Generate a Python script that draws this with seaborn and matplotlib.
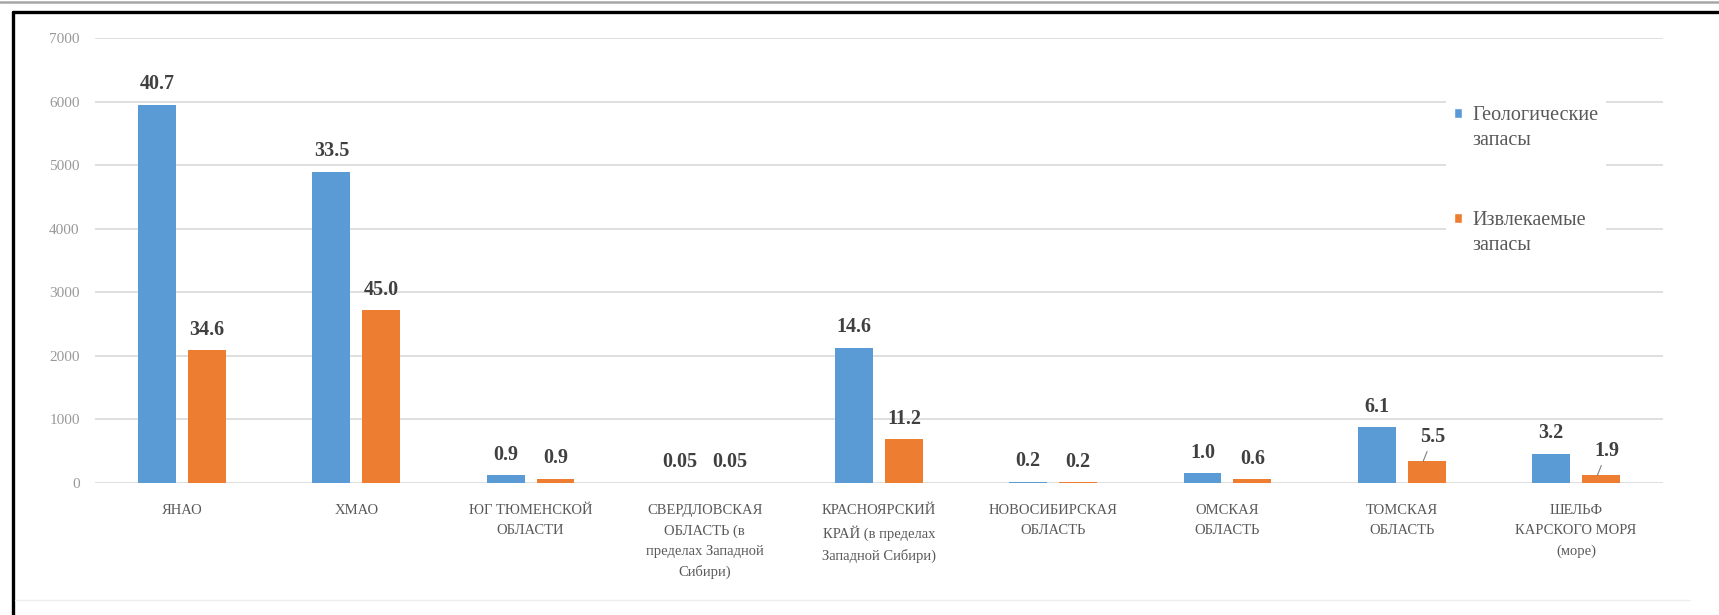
import numpy as np
import pandas as pd
import matplotlib
matplotlib.use("Agg")
import matplotlib.pyplot as plt
import seaborn as sns
from matplotlib.lines import Line2D
from matplotlib.patches import Patch, Rectangle
from matplotlib.legend_handler import HandlerPatch

# Regions (x-axis categories, with their line breaks)
regions = [
    "ЯНАО",
    "ХМАО",
    "ЮГ ТЮМЕНСКОЙ\nОБЛАСТИ",
    "СВЕРДЛОВСКАЯ\nОБЛАСТЬ (в\nпределах Западной\nСибири)",
    "КРАСНОЯРСКИЙ\nКРАЙ (в пределах\nЗападной Сибири)",
    "НОВОСИБИРСКАЯ\nОБЛАСТЬ",
    "ОМСКАЯ\nОБЛАСТЬ",
    "ТОМСКАЯ\nОБЛАСТЬ",
    "ШЕЛЬФ\nКАРСКОГО МОРЯ\n(море)",
]
series_names = ["Геологические\nзапасы", "Извлекаемые\nзапасы"]

# Bar heights
geo_reserves = [5950, 4900, 120, 5, 2130, 20, 150, 880, 460]
rec_reserves = [2090, 2720, 70, 5, 690, 10, 60, 340, 120]

# Labels above bars (share, %)
geo_share = ["40.7", "33.5", "0.9", "0.05", "14.6", "0.2", "1.0", "6.1", "3.2"]
rec_share = ["34.6", "45.0", "0.9", "0.05", "11.2", "0.2", "0.6", "5.5", "1.9"]
leader_labels = {"5.5", "1.9"}

yticks = [0, 1000, 2000, 3000, 4000, 5000, 6000, 7000]

blue = "#5B9BD5"
orange = "#ED7D31"

df = pd.DataFrame({
    "region": regions * 2,
    "series": [series_names[0]] * len(regions) + [series_names[1]] * len(regions),
    "value": geo_reserves + rec_reserves,
})

sns.set_style("white")
plt.rcParams["font.family"] = ["Liberation Serif", "DejaVu Serif"]

W, H = 1719, 615
fig = plt.figure(figsize=(W / 100, H / 100), dpi=100)
ax = fig.add_axes([95 / W, (H - 483) / H, (1663 - 95) / W, (483 - 38) / H])

sns.barplot(data=df, x="region", y="value", hue="series", order=regions,
            hue_order=series_names, palette=[blue, orange],
            width=0.573, gap=0.24, saturation=1, linewidth=0, edgecolor="none",
            legend=False, ax=ax)

ax.set_ylim(0, 7000)
ax.set_yticks(yticks)
ax.set_xlim(-0.5, len(regions) - 0.5)
ax.yaxis.grid(True, color="#d9d9d9", lw=1.2)
ax.set_axisbelow(True)
for s in ax.spines.values():
    s.set_visible(False)
ax.set_xlabel("")
ax.set_ylabel("")
ax.tick_params(axis="x", length=0, pad=15, labelsize=10.5, labelcolor="#595959")
ax.tick_params(axis="y", length=0, pad=11, labelsize=11, labelcolor="#999999")
for t in ax.get_xticklabels():
    t.set_linespacing(1.7)

# share labels
for cont, labels in zip(ax.containers, [geo_share, rec_share]):
    for bar, lab in zip(cont, labels):
        x = bar.get_x() + bar.get_width() / 2
        y = bar.get_height()
        if lab in leader_labels:
            ax.annotate(lab, xy=(x - 0.02, y), xytext=(7, 14),
                        textcoords="offset points", ha="center", va="baseline",
                        fontsize=14.5, fontweight="bold", color="#404040",
                        arrowprops=dict(arrowstyle="-", color="#7f7f7f", lw=0.8,
                                        shrinkA=1, shrinkB=0))
        else:
            ax.annotate(lab, xy=(x, y), xytext=(0, 11), textcoords="offset points",
                        ha="center", va="baseline", fontsize=14.5,
                        fontweight="bold", color="#404040")


# legend: square marker sits on the first line of the two-line label
def top_square(legend, orig_handle, xdescent, ydescent, width, height, fontsize):
    return Rectangle((-xdescent, -ydescent + 0.5 * 1.45 * fontsize), width, height)


handles = [Patch(facecolor=blue), Patch(facecolor=orange)]
leg = ax.legend(handles, series_names, loc="upper left",
                bbox_to_anchor=(1446 / W, 1 - 98 / H), bbox_transform=fig.transFigure,
                frameon=True, facecolor="white", edgecolor="none", framealpha=1,
                fancybox=False, borderpad=0.4, borderaxespad=0,
                handlelength=0.4, handleheight=0.4, handletextpad=0.5,
                labelspacing=3.0, prop={"family": "Liberation Serif", "size": 14.5},
                labelcolor="#595959",
                handler_map={Patch: HandlerPatch(patch_func=top_square)})
for t in leg.get_texts():
    t.set_linespacing(1.45)

# frame around the picture
fig.add_artist(Line2D([0, 1], [1 - 2 / H, 1 - 2 / H], color="#a6a6a6", lw=1.8))
fig.add_artist(Line2D([13 / W, 1], [1 - 12 / H, 1 - 12 / H], color="black", lw=2.4))
fig.add_artist(Line2D([13 / W, 13 / W], [0, 1 - 12 / H], color="black", lw=2.4))
fig.add_artist(Line2D([15 / W, 1690 / W], [1 - 600 / H, 1 - 600 / H], color="#ededed", lw=1))

fig.savefig("out.png", dpi=100)
